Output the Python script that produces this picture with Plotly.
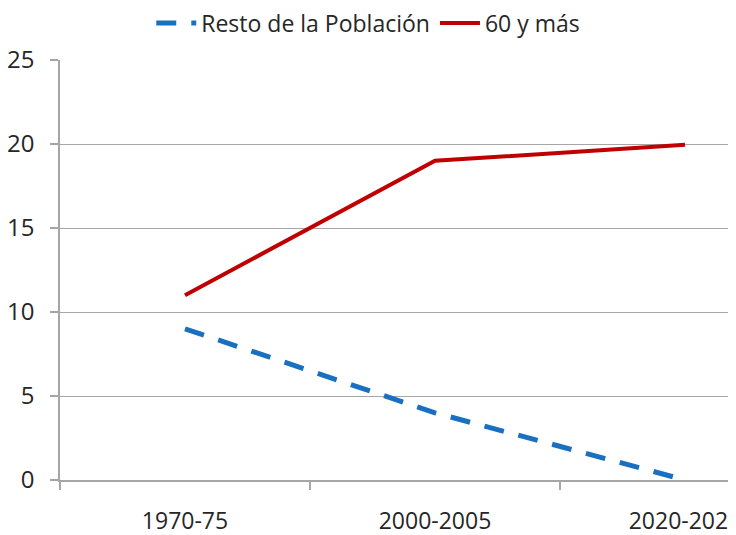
import plotly.graph_objects as go

periods = ["1970-75", "2000-2005", "2020-2025"]
resto = [9, 4, 0]
mayores = [11, 19, 19.95]
series_names = ["Resto de la Población", "60 y más"]
y_ticks = [0, 5, 10, 15, 20, 25]

font_family = "Open Sans, Liberation Sans, sans-serif"
grid_color = "#a6a6a6"

fig = go.Figure()
fig.add_trace(go.Scatter(
    x=periods, y=resto, mode="lines", name=series_names[0],
    line=dict(color="#1a70c0", width=5, dash="20px,15px"),
))
fig.add_trace(go.Scatter(
    x=periods, y=mayores, mode="lines", name=series_names[1],
    line=dict(color="#c00000", width=4),
))

# page body has an 8px margin, so the figure is 8px smaller and margins shifted
fig.update_layout(
    width=728, height=527,
    margin=dict(l=52, r=0, t=52, b=55, autoexpand=False),
    paper_bgcolor="white", plot_bgcolor="white",
    font=dict(family=font_family, size=24, color="#262626"),
    showlegend=True,
    legend=dict(orientation="h", x=0.456, xanchor="center", y=1.088, yanchor="middle",
                font=dict(size=23, color="#262626"), itemwidth=40, bgcolor="rgba(0,0,0,0)"),
)
fig.update_xaxes(
    type="category", range=[-0.5, 2.204], automargin=False,
    showline=True, linecolor=grid_color, linewidth=1.5,
    showgrid=False, ticks="outside", tickson="boundaries", ticklen=8,
    tickcolor=grid_color, tickwidth=1.5,
    tickfont=dict(size=23), ticklabelstandoff=20,
)
fig.update_yaxes(
    range=[0, 25], tickvals=y_ticks, automargin=False,
    showline=True, linecolor=grid_color, linewidth=1.5,
    showgrid=True, gridcolor=grid_color, gridwidth=1.2,
    zeroline=False,
    ticks="outside", ticklen=8, tickcolor=grid_color, tickwidth=1.5,
    tickfont=dict(size=24), ticklabelstandoff=11,
)

fig.write_html("out.html")
